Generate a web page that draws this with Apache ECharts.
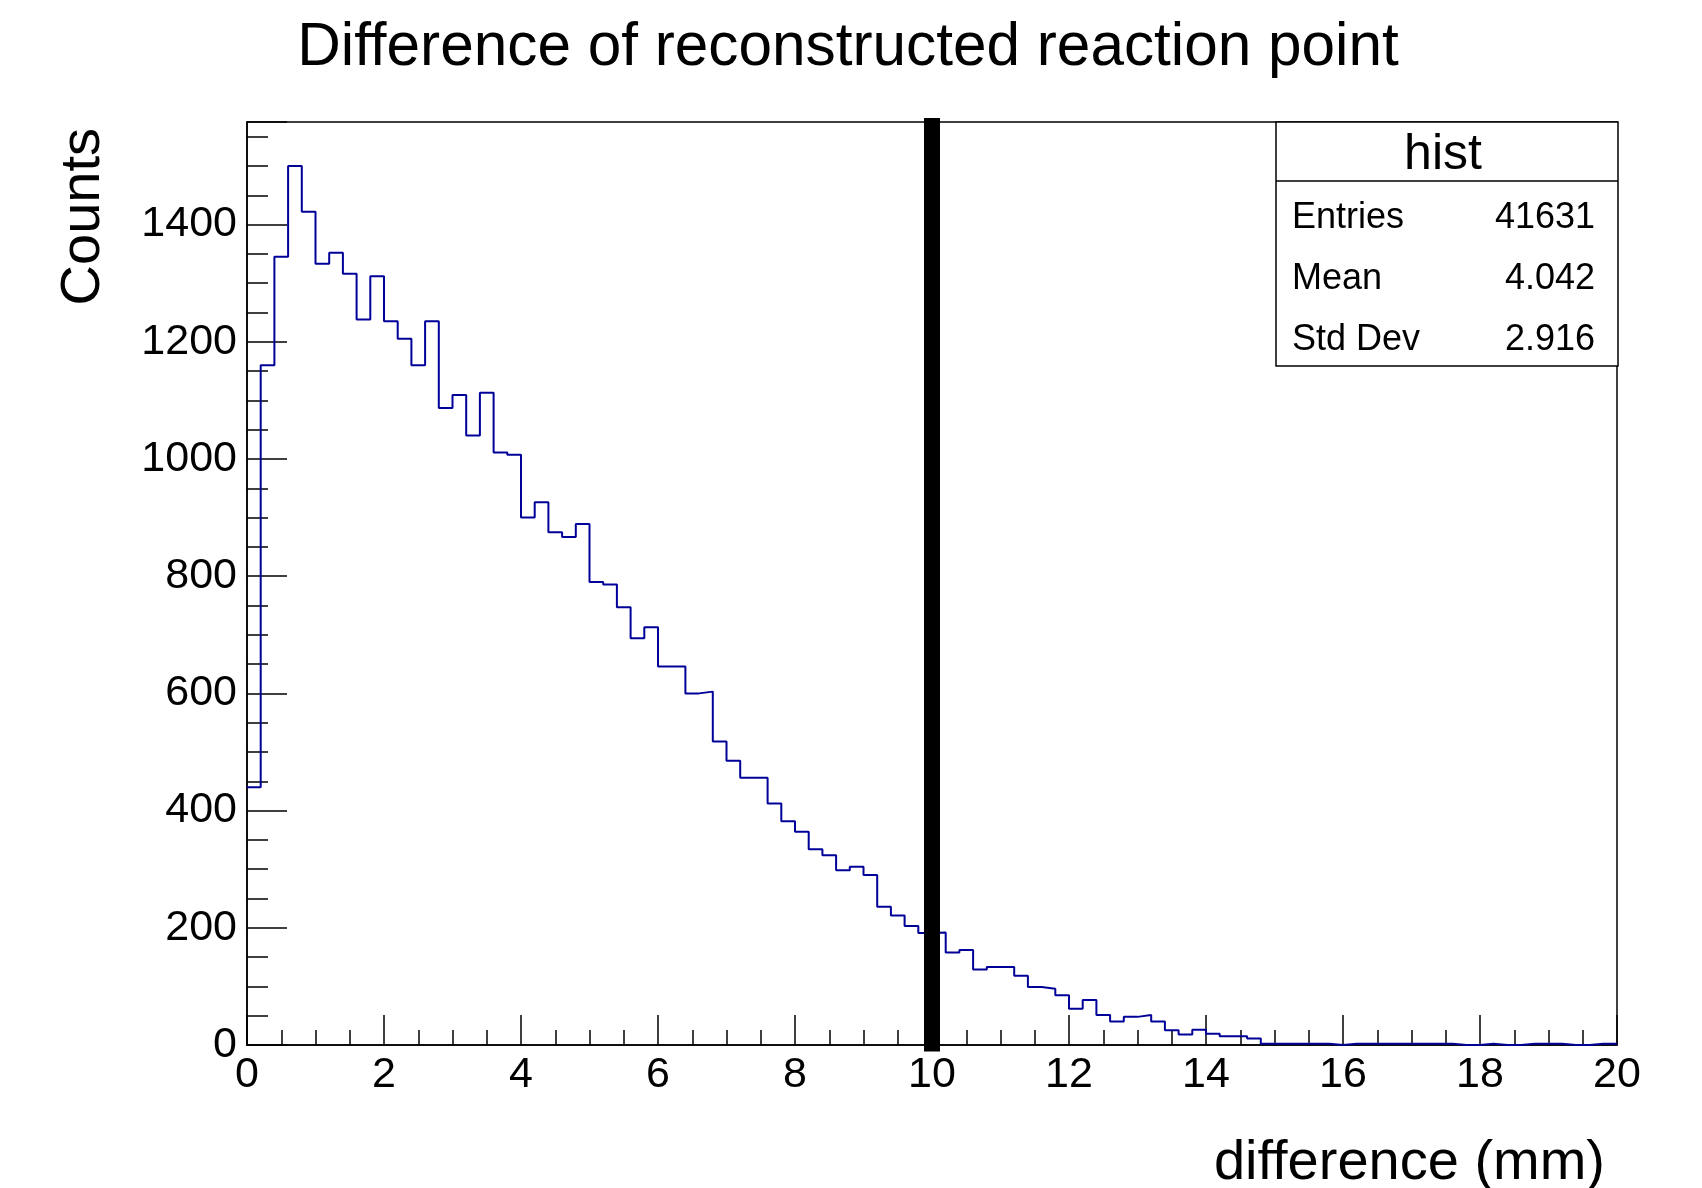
<!DOCTYPE html>
<html>
<head>
<meta charset="utf-8">
<script src="https://cdn.jsdelivr.net/npm/echarts@6/dist/echarts.min.js"></script>
<style>
  html, body { margin: 0; padding: 0; background: #fff; }
  #chart { width: 1702px; height: 1188px; }
</style>
</head>
<body>
<div id="chart"></div>
<script>
// histogram: 100 bins of 0.2 mm from 0 to 20
const xMin = 0;
const xMax = 20;
const binWidth = 0.2;
const counts = [
  440, 1160, 1345, 1500, 1422, 1333, 1352, 1316, 1238, 1312,
  1235, 1205, 1160, 1235, 1087, 1109, 1040, 1113, 1011, 1007,
  900, 926, 875, 867, 889, 790, 786, 747, 694, 713,
  646, 646, 600, 603, 518, 485, 456, 456, 412, 382,
  364, 334, 324, 298, 304, 290, 236, 221, 203, 191,
  192, 158, 162, 129, 133, 133, 118, 99, 96, 85,
  62, 77, 51, 40, 48, 51, 40, 25, 18, 26,
  19, 15, 15, 11, 2, 2, 2, 2, 2, 0,
  2, 2, 2, 2, 2, 2, 2, 2, 0, 0,
  2, 0, 0, 2, 2, 2, 0, 0, 2, 2
];

const yMax = 1575;
const xTicks = [0, 2, 4, 6, 8, 10, 12, 14, 16, 18, 20];
const yTicks = [0, 200, 400, 600, 800, 1000, 1200, 1400];

// vertical cut line at 10 mm
const cutX = 10;
const cutRange = [-11, 1582];

const statLabels = ['Entries', 'Mean', 'Std Dev'];
const statValues = ['41631', '4.042', '2.916'];

const FONT = '"Liberation Sans", Arial, Helvetica, sans-serif';

// step points at the low edge of each bin, plus the closing edge
let histPts = counts.map((c, i) => [xMin + i * binWidth, c]);
histPts.push([xMax, counts[counts.length - 1]]);

let chart = echarts.init(document.getElementById('chart'));

// stats box
let statsGraphic = [
  {
    type: 'rect',
    shape: { x: 1276, y: 122, width: 342, height: 244 },
    style: { fill: '#fff', stroke: '#000', lineWidth: 1.5 },
    z: 10
  },
  {
    type: 'line',
    shape: { x1: 1276, y1: 181, x2: 1618, y2: 181 },
    style: { stroke: '#000', lineWidth: 1.5 },
    z: 11
  },
  {
    type: 'text', x: 1443, y: 155, z: 11,
    style: { text: 'hist', font: '50px ' + FONT, fill: '#000', textAlign: 'center', textVerticalAlign: 'middle' }
  }
];
statLabels.forEach((lab, i) => {
  const y = 218 + i * 61;
  statsGraphic.push({
    type: 'text', x: 1292, y: y, z: 11,
    style: { text: lab, font: '36px ' + FONT, fill: '#000', textAlign: 'left', textVerticalAlign: 'middle' }
  });
  statsGraphic.push({
    type: 'text', x: 1595, y: y, z: 11,
    style: { text: statValues[i], font: '36px ' + FONT, fill: '#000', textAlign: 'right', textVerticalAlign: 'middle' }
  });
});

let option = {
  backgroundColor: '#fff',
  animation: false,
  title: {
    text: 'Difference of reconstructed reaction point',
    left: 843,
    textAlign: 'center',
    top: 13,
    textStyle: { fontFamily: FONT, fontSize: 60.3, fontWeight: 'normal', color: '#000' }
  },
  grid: {
    left: 247,
    right: 85,
    top: 122,
    bottom: 143,
    show: true,
    borderColor: '#000',
    borderWidth: 1.5,
    backgroundColor: 'transparent'
  },
  xAxis: {
    type: 'value',
    min: xMin,
    max: xMax,
    interval: xTicks[1] - xTicks[0],
    axisLine: { show: true, onZero: false, lineStyle: { color: '#000', width: 1.5 } },
    axisTick: { show: true, inside: true, length: 30, lineStyle: { color: '#000', width: 1.5 } },
    minorTick: { show: true, splitNumber: 4, length: 15, lineStyle: { color: '#000', width: 1.5 } },
    splitLine: { show: false },
    axisLabel: { fontFamily: FONT, fontSize: 43, color: '#000', margin: 9 }
  },
  yAxis: [
    {
      type: 'value',
      min: 0,
      max: yMax,
      interval: yTicks[1] - yTicks[0],
      axisLine: { show: true, lineStyle: { color: '#000', width: 1.5 } },
      axisTick: { show: true, inside: true, length: 40, lineStyle: { color: '#000', width: 1.5 } },
      splitLine: { show: false },
      axisLabel: {
        fontFamily: FONT, fontSize: 43, color: '#000', margin: 10,
        formatter: (v) => (yTicks.indexOf(v) >= 0 ? String(v) : '')
      }
    },
    {
      type: 'value',
      position: 'left',
      min: 0,
      max: yMax,
      interval: 50,
      axisLine: { show: false },
      axisTick: { show: true, inside: true, length: 21, lineStyle: { color: '#000', width: 1.5 } },
      splitLine: { show: false },
      axisLabel: { show: false }
    }
  ],
  series: [
    {
      name: 'hist',
      type: 'line',
      step: 'end',
      data: histPts,
      showSymbol: false,
      lineStyle: { color: '#000099', width: 2 },
      z: 3
    },
    {
      name: 'cut',
      type: 'line',
      data: [[cutX, cutRange[0]], [cutX, cutRange[1]]],
      showSymbol: false,
      clip: false,
      lineStyle: { color: '#000', width: 16, cap: 'butt' },
      z: 5
    }
  ],
  graphic: statsGraphic.concat([
    {
      type: 'text', x: 84, y: 128, rotation: Math.PI / 2,
      style: { text: 'Counts', font: '56px ' + FONT, fill: '#000', textAlign: 'right', textVerticalAlign: 'middle' }
    },
    {
      type: 'text', x: 1605, y: 1164,
      style: { text: 'difference (mm)', font: '56px ' + FONT, fill: '#000', textAlign: 'right', textVerticalAlign: 'middle' }
    }
  ])
};

option && chart.setOption(option);

window.addEventListener('resize', function() {
  chart.resize();
});
</script>
</body>
</html>
